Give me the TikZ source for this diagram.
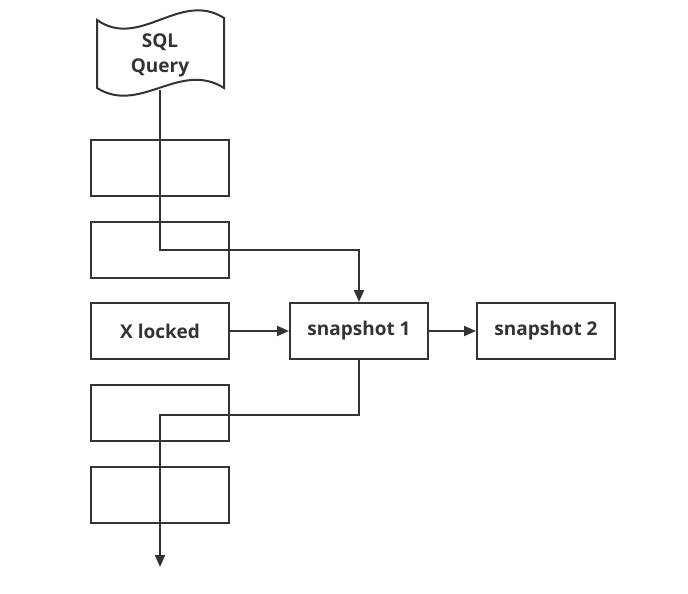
\documentclass[tikz,border=0pt]{standalone}
\usepackage{fontspec}
\setmainfont{Open Sans}
\usetikzlibrary{arrows.meta}
\definecolor{ink}{HTML}{333333}
\tikzset{
  cell/.style={draw=ink, line width=2pt, minimum width=138pt, minimum height=56pt, inner sep=0pt, text=ink, font=\fontsize{19}{22}\selectfont\bfseries},
  link/.style={draw=ink, line width=2pt},
  arr/.style={link, -{Triangle[length=12pt,width=10pt]}}
}
\begin{document}
\begin{tikzpicture}[x=1pt,y=-1pt]
\useasboundingbox (0,0) rectangle (688,594);
% tape shape
\draw[link, fill=white] (97,20) .. controls (140,50) and (180,-10) .. (224,18) -- (224,88)
  .. controls (180,60) and (140,115) .. (97,88) -- cycle;
\node[text=ink, font=\fontsize{19}{25}\selectfont\bfseries, align=center] (sql) at (160,55) {SQL\\Query};
\coordinate (sqlb) at (160,90);
\node[cell] (b1) at (160,167.5) {};
\node[cell] (b2) at (160,249.5) {};
\node[cell] (xl) at (160,331) {X locked};
\node[cell] (b4) at (160,413) {};
\node[cell] (b5) at (160,494.5) {};
\node[cell] (s1) at (359,331) {snapshot 1};
\node[cell] (s2) at (546,331) {snapshot 2};
\coordinate (end) at (160,567);
\draw[arr] (sqlb) |- (359,250) -- (s1.north);
\draw[arr] (xl) -- (s1);
\draw[arr] (s1) -- (s2);
\draw[arr] (s1.south) |- (160,415) -- (end);
\end{tikzpicture}
\end{document}
